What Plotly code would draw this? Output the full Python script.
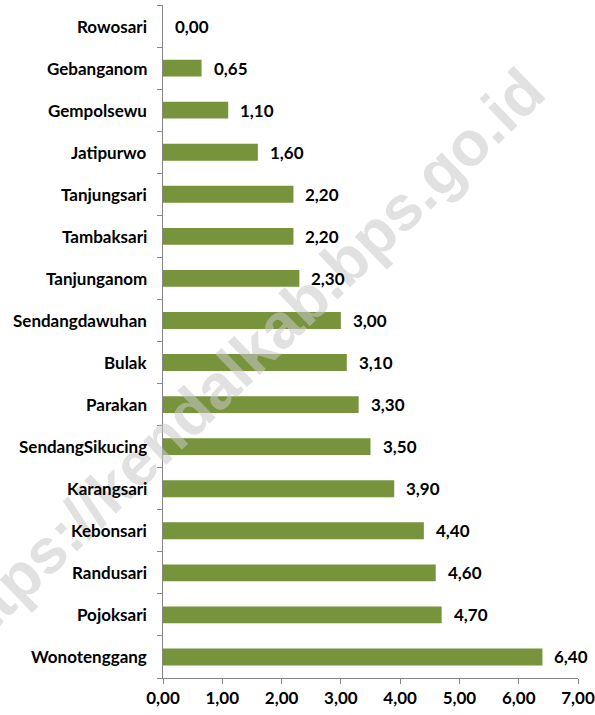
import plotly.graph_objects as go

categories = ["Wonotenggang", "Pojoksari", "Randusari", "Kebonsari", "Karangsari",
              "SendangSikucing", "Parakan", "Bulak", "Sendangdawuhan", "Tanjunganom",
              "Tambaksari", "Tanjungsari", "Jatipurwo", "Gempolsewu", "Gebanganom", "Rowosari"]
values = [6.40, 4.70, 4.60, 4.40, 3.90, 3.50, 3.30, 3.10, 3.00, 2.30,
          2.20, 2.20, 1.60, 1.10, 0.65, 0.00]
x_ticks = [0, 1, 2, 3, 4, 5, 6, 7]

FONT = "Lato"
FS = 17
fig = go.Figure()
fig.add_trace(go.Bar(
    y=categories, x=values, orientation="h",
    marker=dict(color="#77933C", line=dict(width=0)),
    width=0.4, showlegend=False,
))

# watermark first, so labels are drawn on top of it
fig.add_annotation(xref="paper", yref="paper", x=0.186, y=0.468,
                   xanchor="center", yanchor="middle",
                   text="<b>https://kendalkab.bps.go.id</b>", textangle=-44,
                   showarrow=False,
                   font=dict(family="Liberation Sans", size=63, color="rgba(200,200,200,0.55)"))

for c, v in zip(categories, values):
    fig.add_annotation(x=v, y=c, text=f"<b>{v:.2f}</b>".replace(".", ","),
                       xanchor="left", xshift=10, showarrow=False,
                       font=dict(family=FONT, size=FS, color="#000000"))
    fig.add_annotation(xref="paper", x=0, y=c, text=f"<b>{c}</b>",
                       xanchor="right", xshift=-14, showarrow=False,
                       font=dict(family=FONT, size=FS, color="#000000"))

fig.update_layout(
    width=595, height=715,
    margin=dict(l=163, r=17, t=5, b=37),
    paper_bgcolor="white", plot_bgcolor="white",
    separators=",.",
    font=dict(family=FONT, size=FS, color="#000000"),
    xaxis=dict(range=[0, 7], tickvals=x_ticks, tickformat=".2f", automargin=False,
               showgrid=False, zeroline=False, showline=True, linecolor="#868686",
               ticks="outside", ticklen=5, tickcolor="#868686",
               tickfont=dict(family=FONT, size=FS, weight="bold")),
    yaxis=dict(type="category", showgrid=False, showline=True, linecolor="#868686",
               automargin=False, showticklabels=False,
               ticks="outside", ticklen=5, tickcolor="#868686", tickson="boundaries"),
)
fig.write_html("out.html", config={"displayModeBar": False},
               post_script="document.body.style.margin='0';document.body.style.padding='0';")
